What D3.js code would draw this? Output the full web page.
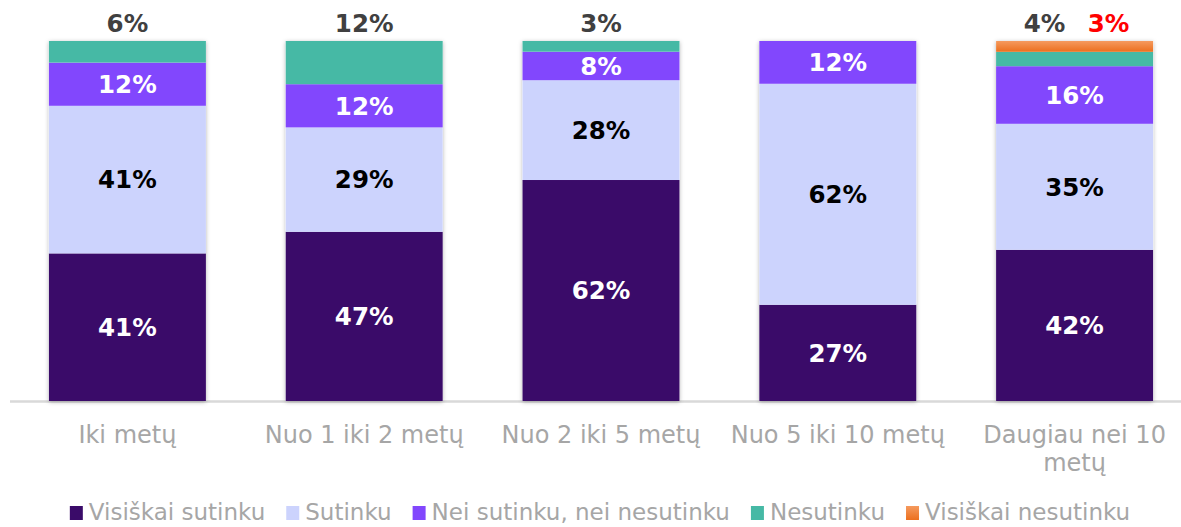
<!DOCTYPE html>
<html>
<head>
<meta charset="utf-8">
<script src="https://cdn.jsdelivr.net/npm/d3@7/dist/d3.min.js"></script>
<style>
  body { margin: 0; background: #fff; }
  svg { display: block; }
</style>
</head>
<body>
<svg width="1181" height="527"></svg>
<script>
var categories = ["Iki metų", "Nuo 1 iki 2 metų", "Nuo 2 iki 5 metų", "Nuo 5 iki 10 metų", "Daugiau nei 10 metų"];
var seriesNames = ["Visiškai sutinku", "Sutinku", "Nei sutinku, nei nesutinku", "Nesutinku", "Visiškai nesutinku"];
var visiskaiSutinku = [41, 47, 62, 27, 42];
var sutinku = [41, 29, 28, 62, 35];
var neiSutinku = [12, 12, 8, 12, 16];
var nesutinku = [6, 12, 3, 0, 4];
var visiskaiNesutinku = [0, 0, 0, 0, 3];

var colors = ["#3a0b69", "#ccd3fd", "#8247fd", "#46b9a5", "#f07a2d"];
var labelColors = ["#fff", "#000", "#fff", "#404040", "#ff0000"];

var series = [visiskaiSutinku, sutinku, neiSutinku, nesutinku, visiskaiNesutinku];
var font = "DejaVu Sans, Verdana, sans-serif";

var svg = d3.select("svg");

var defs = svg.append("defs");
var f = defs.append("filter").attr("id", "shadow")
    .attr("x", "-10%").attr("y", "-10%").attr("width", "120%").attr("height", "120%");
f.append("feDropShadow").attr("dx", 0).attr("dy", 1).attr("stdDeviation", 2)
    .attr("flood-color", "#000").attr("flood-opacity", 0.3);
var og = defs.append("linearGradient").attr("id", "orange").attr("x1", 0).attr("y1", 0).attr("x2", 0).attr("y2", 1);
og.append("stop").attr("offset", "0%").attr("stop-color", "#f59a5e");
og.append("stop").attr("offset", "100%").attr("stop-color", "#ec6f1d");

var x = d3.scaleBand()
    .domain(categories)
    .range([9, 1193])
    .paddingInner(0.337)
    .paddingOuter(0.1685);

var y = d3.scaleLinear().domain([0, 1]).range([401, 41]);

// 100% stacked: normalise each column
var rows = categories.map(function(c, i) {
  var total = d3.sum(series, function(s) { return s[i]; });
  var r = { cat: c };
  series.forEach(function(s, k) { r["s" + k] = s[i] / total; });
  return r;
});
var stack = d3.stack().keys(series.map(function(s, k) { return "s" + k; }));
var layers = stack(rows);

// axis line
svg.append("line")
    .attr("x1", 10).attr("x2", 1181)
    .attr("y1", 401.5).attr("y2", 401.5)
    .attr("stroke", "#d9d9d9").attr("stroke-width", 2.5);

// shadow behind each column
svg.append("g").selectAll("rect")
  .data(rows)
  .join("rect")
    .attr("x", function(d) { return x(d.cat); })
    .attr("width", x.bandwidth())
    .attr("y", y(1))
    .attr("height", y(0) - y(1))
    .attr("fill", "#fff")
    .attr("filter", "url(#shadow)");

layers.forEach(function(layer, k) {
  svg.append("g").selectAll("rect")
    .data(layer.filter(function(d) { return d[1] - d[0] > 0; }))
    .join("rect")
      .attr("x", function(d) { return x(d.data.cat); })
      .attr("width", x.bandwidth())
      .attr("y", function(d) { return y(d[1]); })
      .attr("height", function(d) { return y(d[0]) - y(d[1]); })
      .attr("fill", k === 4 ? "url(#orange)" : colors[k]);
});

// labels inside bars
[0, 1, 2].forEach(function(k) {
  svg.append("g").selectAll("text")
    .data(layers[k].map(function(d, i) { return { d: d, v: series[k][i] }; }).filter(function(o) { return o.v > 0; }))
    .join("text")
      .attr("x", function(o) { return x(o.d.data.cat) + x.bandwidth() / 2; })
      .attr("y", function(o) { return (y(o.d[0]) + y(o.d[1])) / 2; })
      .attr("dy", "0.36em")
      .attr("text-anchor", "middle")
      .attr("font-family", font)
      .attr("font-weight", "bold")
      .attr("font-size", 24.5)
      .attr("fill", labelColors[k])
      .text(function(o) { return o.v + "%"; });
});

// labels above bars (small segments)
var topLabels = [];
categories.forEach(function(c, i) {
  var cx = x(c) + x.bandwidth() / 2;
  if (visiskaiNesutinku[i] > 0) {
    topLabels.push({ x: cx - 30, v: nesutinku[i], k: 3 });
    topLabels.push({ x: cx + 34, v: visiskaiNesutinku[i], k: 4 });
  } else if (nesutinku[i] > 0) {
    topLabels.push({ x: cx, v: nesutinku[i], k: 3 });
  }
});
svg.append("g").selectAll("text")
  .data(topLabels)
  .join("text")
    .attr("x", function(d) { return d.x; })
    .attr("y", 23)
    .attr("dy", "0.36em")
    .attr("text-anchor", "middle")
    .attr("font-family", font)
    .attr("font-weight", "bold")
    .attr("font-size", 24.5)
    .attr("fill", function(d) { return labelColors[d.k]; })
    .text(function(d) { return d.v + "%"; });

// category labels
var catG = svg.append("g")
    .attr("font-family", font)
    .attr("font-size", 24)
    .attr("fill", "#a6a6a6")
    .attr("text-anchor", "middle");
categories.forEach(function(c) {
  var cx = x(c) + x.bandwidth() / 2;
  var t = catG.append("text").attr("x", cx).attr("y", 443);
  var lines = c === "Daugiau nei 10 metų" ? ["Daugiau nei 10", "metų"] : [c];
  lines.forEach(function(l, j) {
    t.append("tspan").attr("x", cx).attr("dy", j === 0 ? 0 : 28).text(l);
  });
});

// legend
var legend = svg.append("g")
    .attr("font-family", font)
    .attr("font-size", 23)
    .attr("fill", "#a6a6a6");
var lx = 0;
seriesNames.forEach(function(name, k) {
  legend.append("rect")
      .attr("x", lx).attr("y", 506)
      .attr("width", 13).attr("height", 14)
      .attr("fill", k === 4 ? "url(#orange)" : colors[k]);
  var t = legend.append("text")
      .attr("x", lx + 19).attr("y", 520)
      .text(name);
  lx += 19 + t.node().getComputedTextLength() + 21;
});
legend.attr("transform", "translate(" + (600 - (lx - 21) / 2) + ",0)");
</script>
</body>
</html>
